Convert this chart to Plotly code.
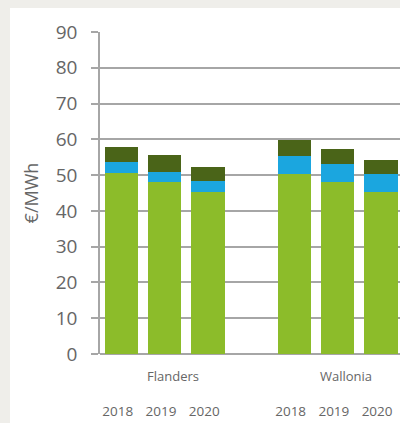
import plotly.graph_objects as go

regions = ["Flanders", "Wallonia"]
years = ["2018", "2019", "2020"]
x_pos = [0, 1, 2, 4, 5, 6]
tick_years = years + years
green_vals = [50.5, 48.2, 45.4, 50.3, 48.2, 45.4]
blue_vals = [3.1, 2.7, 3.0, 5.0, 4.8, 4.9]
dark_vals = [4.3, 4.8, 4.0, 4.5, 4.4, 3.8]
region_centers = [1, 5]

GREEN = "#8cbc2a"
BLUE = "#1ba6df"
DARK = "#4a6418"
TEXT = "#666666"
GRID = "#a6a6a6"

fig = go.Figure()
for vals, col, name in [(green_vals, GREEN, "a"), (blue_vals, BLUE, "b"), (dark_vals, DARK, "c")]:
    fig.add_trace(go.Bar(x=x_pos, y=vals, marker=dict(color=col, line=dict(width=0)),
                         name=name, showlegend=False, hoverinfo="skip"))

W, H = 400, 423
ml, mr, mt, mb = 100, 0, 32, 69
pw, ph = W - ml - mr, H - mt - mb

# white panel over light grey page
fig.add_shape(type="rect", xref="paper", yref="paper",
              x0=(10 - ml) / pw, x1=1.05, y0=-mb / ph - 0.05, y1=1 + (mt - 8) / ph,
              fillcolor="white", line=dict(width=0), layer="below")

for name, c in zip(regions, region_centers):
    fig.add_annotation(x=c + 0.19, y=-(376 - (mt + ph)) / ph, xref="x", yref="paper",
                       text=name, showarrow=False, yanchor="middle",
                       font=dict(size=13, color=TEXT, family="Open Sans"))

fig.update_layout(
    width=W, height=H, barmode="stack", bargap=0.23,
    margin=dict(l=ml, r=mr, t=mt, b=mb),
    paper_bgcolor="#efeeea", plot_bgcolor="rgba(0,0,0,0)",
    font=dict(family="Open Sans", color=TEXT),
    xaxis=dict(range=[-0.5, 6.44], tickvals=[p - 0.09 for p in x_pos], ticktext=tick_years,
               showgrid=False, zeroline=False, showline=False, ticks="",
               tickfont=dict(size=13.5, color=TEXT), ticklabelstandoff=47),
    yaxis=dict(range=[0, 90], dtick=10, showgrid=True, gridcolor=GRID, gridwidth=1.5,
               zeroline=True, zerolinecolor=GRID, zerolinewidth=1.5,
               showline=True, linecolor=GRID, linewidth=1.5,
               ticks="outside", ticklen=7, tickcolor=GRID, tickwidth=1.5,
               tickfont=dict(size=19, color=TEXT), ticklabelstandoff=10,
               title=dict(text="€/MWh", font=dict(size=18, color=TEXT), standoff=12)),
)

fig.write_html("out.html", config={"displayModeBar": False},
               post_script="document.body.style.margin='0';document.body.style.overflow='hidden';")
